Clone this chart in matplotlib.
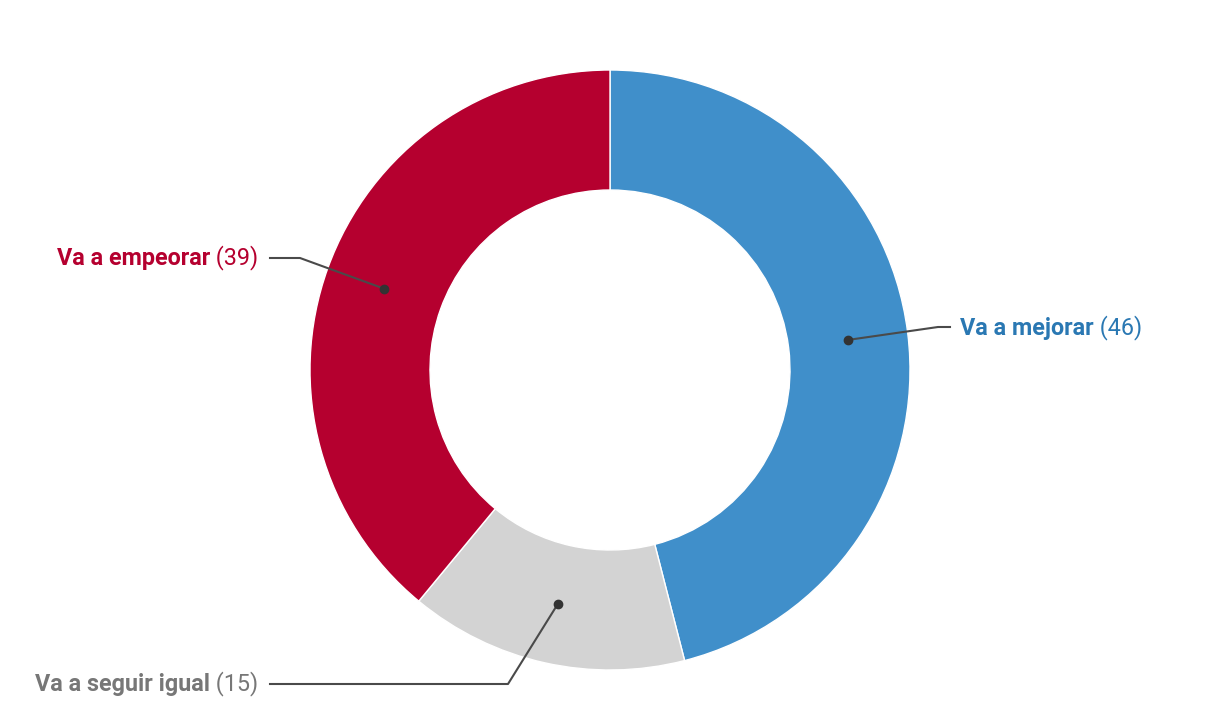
import matplotlib
matplotlib.use("Agg")
from matplotlib import pyplot as plt
import numpy

plt.rcParams['font.family'] = ['Roboto', 'DejaVu Sans']

labels = ['Va a mejorar', 'Va a seguir igual', 'Va a empeorar']
values = [46, 15, 39]
colors = ['#408fca', '#d3d3d3', '#b5002f']
text_colors = ['#2a78b3', '#777777', '#b5002f']

W, H = 1220, 720
fig = plt.figure(figsize=(W / 100, H / 100), dpi=100)
ax = fig.add_axes([0, 0, 1, 1])

cx, cy = 610, H - 370
R = 300
ax.pie(values, colors=colors, startangle=90, counterclock=False,
       center=(cx, cy), radius=R, frame=True,
       wedgeprops=dict(width=120, edgecolor='white', linewidth=1))
ax.set_xlim(0, W)
ax.set_ylim(0, H)
ax.set_aspect('equal')
ax.axis('off')

# leader line elbow / label positions (pixels from top-left)
label_pos = [
    dict(elbow=(938, 327), end=(950, 327), text=(960, 328), ha='left'),
    dict(elbow=(508, 684), end=(270, 684), text=(258, 684), ha='right'),
    dict(elbow=(300, 258), end=(270, 258), text=(258, 258), ha='right'),
]

total = float(sum(values))
cum = 0
for i, v in enumerate(values):
    mid = (cum + v / 2.0) / total * 2 * numpy.pi
    cum += v
    r = R - 60
    dx = cx + r * numpy.sin(mid)
    dy = cy + r * numpy.cos(mid)
    p = label_pos[i]
    ex, ey = p['elbow'][0], H - p['elbow'][1]
    fx, fy = p['end'][0], H - p['end'][1]
    ax.plot([dx, ex, fx], [dy, ey, fy], color='#4a4a4a', lw=1.5, zorder=5)
    ax.plot(dx, dy, 'o', color='#333333', ms=6, zorder=6)

    tx, ty = p['text'][0], H - p['text'][1]
    bold = ax.text(0, 0, labels[i], fontsize=16.8, fontweight='bold',
                   color=text_colors[i], va='center')
    num = ax.text(0, 0, ' (%d)' % v, fontsize=16.8, color=text_colors[i],
                  va='center')
    fig.canvas.draw()
    r_ = fig.canvas.get_renderer()
    wb = bold.get_window_extent(r_).width
    wn = num.get_window_extent(r_).width
    if p['ha'] == 'left':
        bold.set_position((tx, ty))
        num.set_position((tx + wb, ty))
    else:
        bold.set_position((tx - wb - wn, ty))
        num.set_position((tx - wn, ty))

fig.savefig('out.png', dpi=100)
